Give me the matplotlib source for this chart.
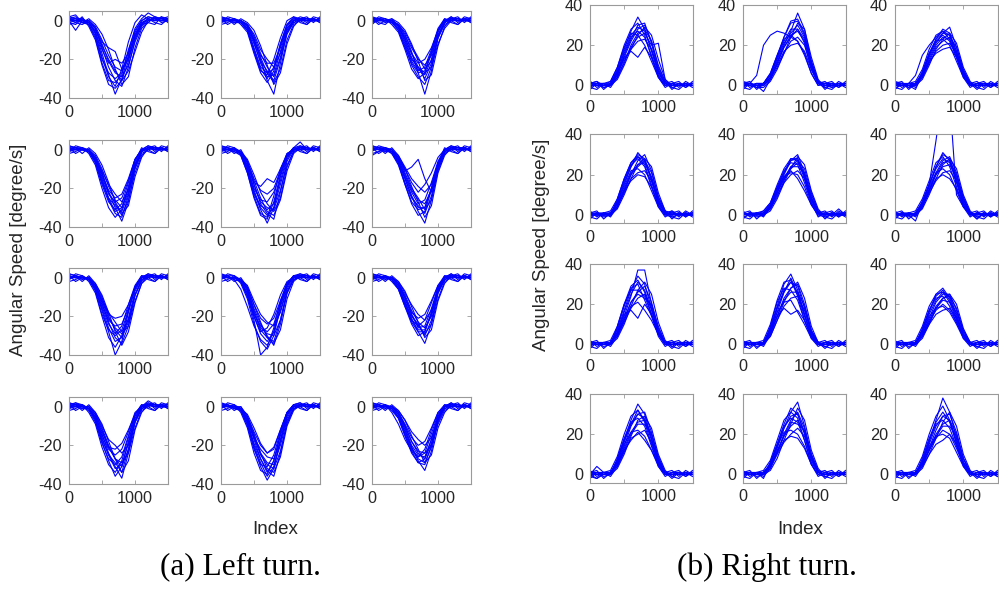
import matplotlib
matplotlib.use("Agg")
import matplotlib.pyplot as plt

plt.rcParams['font.family'] = ['Liberation Sans', 'DejaVu Sans']
plt.rcParams['axes.unicode_minus'] = False

x_index = [0, 100, 200, 300, 400, 500, 600, 700, 800, 900, 1000, 1100, 1200, 1300, 1400, 1500]

# ---------------- (a) Left turn: angular speed [degree/s] ----------------
left_r1c1 = [
    [1, 2, 0, -1, -6, -17, -28, -38, -30, -18, -6, 0, 2, 1, 0, 1],
    [0, -5, 0, 0, -4, -14, -24, -31, -34, -24, -10, -2, 1, 0, 1, 0],
    [2, 1, 1, -2, -8, -20, -27, -30, -27, -16, -4, 1, 4, 2, 1, 1],
    [0, 0, -1, -1, -5, -12, -21, -27, -29, -23, -11, -3, 0, 1, 0, 0],
    [1, 0, 0, 0, -3, -10, -18, -24, -26, -20, -8, -1, 1, 0, 2, 1],
    [-1, 0, 1, -1, -6, -15, -22, -20, -22, -17, -7, -1, 0, 1, 0, 0],
    [0, 1, 0, 0, -4, -11, -14, -16, -25, -19, -9, -2, 1, 0, 0, 1],
    [1, 1, -1, -2, -9, -22, -31, -32, -28, -15, -5, 0, 2, 1, 1, 0],
    [-2, -1, 2, -3, -10, -23, -33, -35, -31, -21, -8, -2, -1, -2, 2, -1],
    [2, 3, -1, 1, -2, -7, -15, -25, -33, -29, -14, -4, -1, 2, 1, 2],
    [-1, -2, 1, -1, -7, -19, -29, -34, -25, -11, -1, 3, 1, -1, -2, 1],
    [1, -1, -2, 0, -4, -13, -20, -26, -31, -26, -16, -6, 0, 2, -1, 0],
]
left_r1c2 = [
    [1, 0, 1, 0, -3, -11, -22, -29, -28, -16, -4, 0, 1, 0, 1, 0],
    [0, 1, 0, 0, -2, -9, -20, -31, -38, -22, -6, -1, 0, 1, 0, 1],
    [1, 1, 0, -1, -4, -14, -24, -27, -25, -13, -3, 1, 1, 0, 0, 0],
    [-1, 0, 0, 0, -2, -8, -17, -24, -29, -19, -5, 0, 1, 1, 0, 1],
    [0, 0, 1, -1, -5, -15, -25, -30, -24, -12, -2, 1, 0, 0, 1, 0],
    [1, 1, 0, 0, -3, -10, -18, -22, -22, -14, -4, 0, 1, 0, 0, 1],
    [0, 0, -1, -1, -4, -12, -21, -26, -31, -20, -7, -1, 1, 1, 1, 0],
    [2, 1, 0, 0, -2, -7, -15, -20, -24, -17, -6, 0, 2, 1, 0, 0],
    [-2, -1, 1, -2, -6, -17, -27, -32, -26, -12, -2, 2, -1, -2, 1, -1],
    [2, 1, -2, 1, -1, -5, -13, -23, -33, -27, -12, -3, 1, 2, -1, 2],
    [-1, 2, 1, -1, -5, -16, -26, -28, -20, -9, 0, 2, 1, -1, 2, 1],
    [1, -2, 0, 0, -3, -10, -19, -27, -32, -25, -10, -2, 0, -2, 1, -1],
]
left_r1c3 = [
    [1, 1, 0, 0, -3, -10, -19, -25, -28, -20, -6, 0, 1, 0, 1, 0],
    [0, 0, 1, 0, -2, -7, -16, -27, -38, -26, -8, -1, 1, 1, 0, 1],
    [1, 0, 0, -1, -4, -12, -21, -26, -24, -15, -4, 1, 0, 0, 1, 0],
    [0, 1, 0, 0, -2, -8, -14, -20, -23, -18, -7, -1, 1, 0, 0, 1],
    [-1, 0, 0, 1, -3, -11, -20, -24, -30, -22, -8, -1, 1, 1, 0, 0],
    [1, 1, -1, 0, -5, -14, -22, -27, -26, -16, -5, 0, 1, 0, 1, 1],
    [0, 0, 0, -1, -2, -6, -13, -19, -25, -21, -9, -2, 0, 1, 0, 0],
    [2, 1, 0, 0, -3, -9, -17, -22, -20, -14, -5, 0, 2, 0, 0, 0],
    [-2, 1, 1, -2, -6, -15, -25, -30, -27, -17, -5, 1, -1, -2, 1, -1],
    [2, -1, -2, 1, -1, -5, -12, -21, -31, -28, -13, -3, 1, 2, -1, 2],
    [-1, 2, 1, -1, -5, -13, -23, -29, -33, -24, -9, -1, 2, -1, 2, 1],
    [1, -2, 0, 0, -3, -9, -17, -24, -27, -24, -12, -4, 0, -2, 1, -1],
]
left_r2c1 = [
    [1, 0, 0, -1, -6, -16, -26, -33, -35, -24, -8, -1, 1, 0, 1, 0],
    [0, 1, 0, 0, -4, -12, -22, -30, -37, -27, -10, -2, 0, 1, 0, 1],
    [1, 1, 1, -1, -7, -18, -27, -31, -28, -17, -5, 0, 1, 1, 0, 0],
    [0, 0, 0, 0, -3, -10, -19, -26, -30, -22, -9, -1, 1, 0, 1, 0],
    [-1, 0, 1, 0, -5, -14, -23, -27, -25, -16, -5, 0, 0, 1, 0, 1],
    [1, 0, 0, -1, -4, -11, -18, -23, -27, -21, -8, -1, 1, 0, 0, 0],
    [0, 1, 0, 0, -6, -17, -25, -29, -32, -23, -9, -1, 1, 1, 1, 0],
    [2, 1, 0, -1, -5, -13, -21, -25, -23, -15, -5, 0, 2, 1, 0, 1],
    [-2, -1, 1, -2, -8, -20, -30, -35, -31, -19, -6, 1, -1, -2, 1, -1],
    [2, 1, -2, 1, -2, -8, -17, -27, -33, -29, -14, -4, 1, 2, -1, 2],
    [-1, 2, 1, -1, -6, -15, -25, -32, -30, -20, -7, 0, 2, -1, 2, 1],
    [1, -2, 0, 0, -4, -12, -22, -28, -34, -26, -12, -3, 0, -2, 1, -1],
]
left_r2c2 = [
    [1, 0, 0, -2, -10, -22, -31, -38, -30, -14, -3, 1, 1, 0, 1, 0],
    [0, 0, -1, -3, -12, -24, -33, -35, -24, -10, -2, 0, 1, 1, 0, 1],
    [1, 1, 0, -1, -7, -18, -28, -33, -36, -22, -6, 0, 0, 0, 1, 0],
    [0, 0, 0, -2, -9, -20, -26, -27, -22, -12, -3, 1, 4, 0, 0, 1],
    [-1, 0, 1, -1, -6, -15, -21, -23, -20, -11, -2, 0, 1, 1, 0, 0],
    [0, 1, 0, -2, -8, -17, -19, -15, -17, -10, -3, 0, 1, 0, 1, 0],
    [1, 0, -1, -2, -11, -23, -29, -31, -28, -16, -4, 0, 0, 1, 0, 1],
    [2, 1, 0, -1, -5, -13, -22, -28, -32, -25, -9, -1, 2, 1, 0, 0],
    [-2, -1, 1, -3, -12, -25, -34, -36, -27, -13, -3, 1, -1, -2, 1, -1],
    [2, 1, -2, 0, -6, -16, -25, -32, -34, -26, -11, -2, 1, 2, -1, 2],
    [-1, 2, 1, -2, -9, -21, -30, -34, -30, -18, -5, 1, 2, -1, 2, 1],
    [1, -2, 0, -1, -7, -18, -27, -30, -31, -21, -8, -1, 0, -2, 1, -1],
]
left_r2c3 = [
    [1, 1, 0, -1, -6, -15, -24, -32, -38, -26, -9, -1, 1, 0, 1, 0],
    [-3, -1, 0, -2, -8, -18, -27, -31, -30, -20, -7, 0, 1, 1, 0, 1],
    [1, 0, 1, 0, -4, -11, -9, -5, -15, -22, -10, -2, 0, 0, 1, 0],
    [0, 1, 0, -1, -5, -13, -21, -26, -28, -21, -8, -1, 1, 0, 0, 1],
    [1, 0, 0, 0, -3, -9, -15, -19, -22, -18, -7, -1, 0, 1, 1, 0],
    [0, 0, -1, -1, -7, -17, -25, -29, -33, -24, -9, -1, 1, 0, 0, 0],
    [2, 1, 0, -1, -4, -10, -17, -22, -18, -12, -4, 0, 2, 1, 0, 1],
    [0, 1, 1, 0, -5, -14, -22, -28, -26, -17, -6, 0, 1, 1, 1, 0],
    [-2, -1, 1, -2, -7, -18, -28, -34, -32, -21, -7, 1, -1, -2, 1, -1],
    [2, 1, -2, 1, -3, -10, -19, -27, -35, -29, -12, -3, 1, 2, -1, 2],
    [-1, 2, 1, -1, -6, -15, -24, -30, -30, -20, -7, 0, 2, -1, 2, 1],
    [1, -2, 0, 0, -4, -12, -20, -25, -31, -26, -11, -2, 0, -2, 1, -1],
]
left_r3c1 = [
    [1, 0, 0, -1, -6, -17, -28, -40, -33, -18, -5, 0, 1, 0, 1, 0],
    [0, 1, 0, 0, -4, -13, -23, -31, -34, -25, -9, -1, 0, 1, 0, 1],
    [1, 0, 1, -1, -7, -19, -27, -30, -27, -17, -5, 0, 1, 1, 0, 0],
    [0, 0, 0, 0, -3, -10, -20, -27, -31, -23, -9, -2, 1, 0, 1, 0],
    [-1, 1, 0, 0, -5, -14, -22, -25, -24, -16, -6, 0, 0, 1, 0, 1],
    [1, 0, 0, -1, -4, -11, -18, -23, -28, -22, -9, -1, 1, 0, 0, 0],
    [0, 1, -1, 0, -6, -15, -24, -29, -25, -14, -4, 1, 1, 1, 1, 0],
    [2, 1, 0, -1, -5, -12, -19, -21, -20, -14, -5, 0, 2, 1, 0, 1],
    [-2, -1, 1, -2, -8, -20, -31, -36, -30, -17, -5, 1, -1, -2, 1, -1],
    [2, 1, -2, 1, -3, -9, -18, -28, -35, -28, -13, -3, 1, 2, -1, 2],
    [-1, 2, 1, -1, -6, -16, -26, -33, -31, -21, -7, 0, 2, -1, 2, 1],
    [1, -2, 0, 0, -4, -12, -21, -26, -29, -25, -12, -3, 0, -2, 1, -1],
]
left_r3c2 = [
    [1, 0, 0, -2, -9, -22, -40, -36, -26, -12, -3, 1, 1, 0, 1, 0],
    [0, 1, -1, -6, -15, -25, -32, -35, -28, -14, -4, 0, 1, 1, 0, 1],
    [1, 0, 0, -1, -7, -18, -27, -31, -33, -22, -7, -1, 0, 0, 1, 0],
    [0, 0, 0, -2, -8, -19, -25, -28, -24, -13, -3, 1, 1, 0, 0, 1],
    [-1, 1, 1, -1, -5, -14, -21, -24, -21, -12, -3, 0, 1, 1, 0, 0],
    [0, 0, 0, -1, -6, -16, -24, -30, -35, -24, -8, -1, 1, 0, 1, 0],
    [1, 1, -1, -2, -10, -20, -28, -26, -19, -9, -2, 0, 0, 1, 0, 1],
    [2, 0, 0, -1, -4, -12, -19, -23, -25, -18, -6, 0, 2, 1, 0, 0],
    [-2, -1, 1, -3, -11, -24, -33, -37, -30, -15, -4, 1, -1, -2, 1, -1],
    [2, 1, -2, 0, -5, -14, -23, -31, -34, -27, -11, -2, 1, 2, -1, 2],
    [-1, 2, 1, -2, -8, -20, -29, -33, -28, -17, -5, 1, 2, -1, 2, 1],
    [1, -2, 0, -1, -6, -17, -26, -29, -30, -22, -8, -1, 0, -2, 1, -1],
]
left_r3c3 = [
    [1, 1, 0, 0, -4, -12, -21, -28, -34, -24, -8, -1, 1, 0, 1, 0],
    [0, 0, 1, -1, -5, -14, -23, -28, -28, -18, -5, 0, 1, 1, 0, 1],
    [1, 0, 0, 0, -3, -9, -17, -23, -26, -20, -7, -1, 0, 0, 1, 0],
    [0, 1, 0, -1, -6, -15, -22, -25, -22, -13, -4, 1, 1, 0, 0, 1],
    [-1, 0, 1, 0, -2, -8, -14, -19, -22, -17, -6, 0, 0, 1, 0, 0],
    [1, 0, 0, -1, -5, -13, -20, -24, -30, -22, -8, -1, 1, 0, 1, 0],
    [0, 1, -1, 0, -4, -10, -18, -21, -19, -12, -4, 0, 1, 1, 0, 1],
    [2, 1, 0, 0, -3, -11, -19, -26, -25, -16, -5, 0, 2, 0, 0, 0],
    [-2, -1, 1, -2, -6, -15, -24, -30, -28, -18, -6, 1, -1, -2, 1, -1],
    [2, 1, -2, 1, -2, -7, -15, -23, -31, -27, -12, -3, 1, 2, -1, 2],
    [-1, 2, 1, -1, -5, -13, -22, -27, -27, -19, -7, 0, 2, -1, 2, 1],
    [1, -2, 0, 0, -3, -10, -19, -25, -29, -24, -11, -2, 0, -2, 1, -1],
]
left_r4c1 = [
    [1, 2, 0, -1, -7, -18, -28, -36, -31, -18, -5, 0, 3, 1, 0, 1],
    [0, 1, 1, -1, -5, -14, -24, -31, -37, -24, -8, -1, 1, 1, 0, 0],
    [1, 0, 0, -2, -8, -19, -27, -30, -26, -15, -4, 1, 1, 0, 1, 0],
    [0, 1, 0, 0, -4, -11, -20, -27, -31, -22, -8, -1, 0, 1, 0, 1],
    [-1, 0, 1, -1, -6, -15, -22, -25, -22, -13, -3, 0, 1, 0, 0, 0],
    [1, 1, 0, 0, -3, -10, -17, -20, -24, -20, -8, -1, 1, 0, 1, 1],
    [0, 0, -1, -1, -7, -17, -25, -29, -34, -22, -7, 0, 1, 1, 0, 0],
    [2, 1, 0, -1, -5, -13, -21, -22, -19, -12, -4, 0, 2, 1, 1, 0],
    [-2, -1, 1, -3, -9, -21, -30, -34, -28, -16, -4, 1, -1, -2, 1, -1],
    [2, 1, -2, 1, -3, -9, -18, -27, -34, -28, -12, -3, 1, 2, -1, 2],
    [-1, 2, 1, -1, -6, -16, -25, -32, -30, -19, -6, 0, 2, -1, 2, 1],
    [1, -2, 0, 0, -4, -12, -21, -27, -29, -24, -11, -2, 0, -2, 1, -1],
]
left_r4c2 = [
    [1, 0, 0, -2, -9, -21, -31, -38, -32, -17, -4, 0, 1, 0, 1, 0],
    [0, 1, -1, -1, -7, -17, -27, -33, -36, -24, -8, -1, 0, 1, 0, 1],
    [1, 0, 0, -2, -10, -22, -30, -31, -25, -13, -3, 1, 1, 1, 0, 0],
    [0, 0, 1, -1, -6, -15, -24, -29, -30, -20, -7, -1, 1, 0, 1, 0],
    [-1, 1, 0, 0, -5, -13, -20, -24, -22, -12, -3, 0, 0, 1, 0, 1],
    [0, 0, 0, -1, -8, -19, -27, -34, -28, -15, -4, 0, 1, 0, 0, 0],
    [1, 1, -1, -2, -7, -16, -22, -26, -27, -18, -6, 0, 1, 1, 1, 0],
    [2, 0, 0, -1, -4, -11, -19, -24, -21, -12, -3, 1, 2, 0, 0, 1],
    [-2, -1, 1, -3, -11, -24, -33, -35, -28, -14, -3, 1, -1, -2, 1, -1],
    [2, 1, -2, 0, -5, -14, -24, -32, -34, -26, -10, -2, 1, 2, -1, 2],
    [-1, 2, 1, -2, -8, -20, -29, -36, -31, -18, -5, 1, 2, -1, 2, 1],
    [1, -2, 0, -1, -6, -16, -25, -30, -32, -23, -9, -1, 0, -2, 1, -1],
]
left_r4c3 = [
    [1, 1, 0, 0, -4, -12, -21, -28, -33, -23, -8, -1, 1, 0, 1, 0],
    [0, 0, 1, -3, -9, -17, -23, -26, -24, -14, -4, 0, 1, 1, 0, 1],
    [1, 0, 0, 0, -3, -10, -18, -24, -27, -19, -6, 0, 0, 0, 1, 0],
    [0, 1, 0, -1, -5, -14, -22, -26, -22, -12, -3, 1, 1, 0, 0, 1],
    [-1, 0, 1, 0, -2, -7, -13, -17, -20, -16, -6, -1, 0, 1, 0, 0],
    [1, 0, 0, -1, -6, -15, -23, -29, -30, -20, -7, 0, 1, 0, 1, 0],
    [0, 1, -1, 0, -3, -9, -16, -20, -18, -11, -3, 0, 1, 1, 0, 1],
    [2, 1, 0, 0, -4, -11, -20, -25, -26, -17, -5, 0, 2, 0, 0, 0],
    [-2, -1, 1, -2, -6, -15, -24, -29, -27, -17, -5, 1, -1, -2, 1, -1],
    [2, 1, -2, 1, -2, -7, -15, -22, -29, -25, -11, -3, 1, 2, -1, 2],
    [-1, 2, 1, -1, -5, -13, -21, -27, -29, -21, -7, 0, 2, -1, 2, 1],
    [1, -2, 0, 0, -3, -10, -18, -23, -24, -20, -9, -2, 0, -2, 1, -1],
]

# ---------------- (b) Right turn: angular speed [degree/s] ----------------
right_r1c1 = [
    [1, 2, 0, 1, 8, 18, 27, 34, 28, 17, 6, 1, 0, 1, 0, 1],
    [0, 1, 1, 0, 5, 14, 22, 28, 30, 22, 9, 2, 0, 0, 1, 0],
    [2, 0, 0, 1, 7, 16, 24, 27, 24, 15, 5, 0, 1, 0, 0, 1],
    [0, 1, -1, 0, 4, 12, 19, 24, 26, 20, 21, 3, 0, 1, 0, 0],
    [1, 0, 0, 2, 9, 19, 26, 25, 20, 12, 4, 0, 1, 0, 1, 0],
    [-1, 1, 1, 0, 6, 13, 18, 22, 23, 18, 8, 1, 0, 1, 0, 1],
    [0, 0, 0, 1, 5, 15, 23, 30, 31, 21, 7, 1, -1, 0, 1, 0],
    [1, 1, 0, 0, 7, 14, 17, 14, 19, 14, 5, 0, 1, 0, 0, 1],
    [2, -1, 1, 2, 9, 20, 28, 31, 25, 14, 4, -1, 1, 2, -1, 1],
    [-2, 1, -1, 0, 3, 10, 18, 25, 29, 25, 13, 3, -1, -2, 1, -1],
    [1, 2, -2, 1, 6, 17, 25, 29, 27, 18, 7, 1, 2, -1, 2, 0],
    [-1, -2, 1, -1, 4, 11, 20, 26, 28, 22, 10, 2, -2, 1, -1, 2],
]
right_r1c2 = [
    [1, 0, 1, 0, 4, 12, 20, 27, 36, 28, 12, 2, 0, 1, 0, 0],
    [0, 1, 5, 20, 25, 27, 26, 24, 22, 16, 6, 0, 1, 0, 1, 0],
    [1, 1, 0, -3, 3, 11, 19, 25, 27, 22, 10, 1, 0, -1, 0, 1],
    [0, 0, 1, 1, 5, 13, 21, 26, 30, 24, 11, 2, 1, 0, 0, 1],
    [2, 1, 0, 0, 3, 9, 16, 22, 24, 20, 9, 1, -1, 0, 1, 0],
    [0, 1, 0, 1, 6, 15, 23, 25, 22, 15, 6, 0, 1, 1, 0, 0],
    [1, 0, -1, 0, 4, 10, 17, 20, 21, 17, 8, 1, 0, 0, 1, 1],
    [-1, 1, 0, 1, 5, 14, 24, 32, 33, 26, 11, 2, 0, 1, 0, 0],
    [2, -1, 1, 1, 6, 15, 24, 31, 32, 25, 10, 1, 1, 2, -1, 1],
    [-2, 1, -1, -1, 2, 8, 16, 24, 31, 28, 14, 3, -1, -2, 1, -1],
    [1, 2, -2, 1, 5, 14, 22, 28, 28, 21, 8, 1, 2, -1, 2, 0],
    [-1, -2, 1, 0, 3, 11, 19, 24, 28, 23, 12, 2, -2, 1, -1, 2],
]
right_r1c3 = [
    [1, 0, 0, 1, 6, 15, 23, 28, 26, 17, 6, 1, 0, 1, 0, 1],
    [0, 1, 1, 5, 15, 20, 24, 27, 25, 15, 5, 0, 1, 0, 0, 0],
    [1, 1, 0, 0, 5, 13, 20, 24, 23, 16, 6, 1, 0, 0, 1, 0],
    [-1, 0, 1, 0, 7, 16, 22, 23, 20, 12, 4, 0, 1, 1, 0, 1],
    [0, 1, -1, 1, 4, 11, 17, 20, 21, 16, 7, 1, 0, 0, 1, 0],
    [1, 0, 0, 0, 6, 14, 21, 26, 29, 19, 7, 1, -1, 1, 0, 0],
    [0, 0, 1, 1, 5, 12, 16, 18, 19, 14, 5, 0, 1, 0, 0, 1],
    [2, 1, 0, -2, 6, 15, 22, 25, 22, 14, 5, 0, 0, 1, 1, 0],
    [2, -1, 1, 2, 8, 18, 25, 27, 23, 14, 4, -1, 1, 2, -1, 1],
    [-2, 1, -1, 0, 3, 10, 18, 23, 26, 21, 9, 2, -1, -2, 1, -1],
    [1, 2, -2, 1, 6, 16, 23, 26, 25, 17, 6, 1, 2, -1, 2, 0],
    [-1, -2, 1, -1, 4, 12, 19, 22, 24, 19, 8, 1, -2, 1, -1, 2],
]
right_r2c1 = [
    [0, 1, 0, 1, 6, 15, 24, 31, 27, 17, 6, 1, 0, 1, 0, 0],
    [1, 0, 0, 0, 4, 12, 20, 27, 30, 22, 9, 2, 1, 0, 0, 1],
    [0, 1, 1, 0, 7, 17, 25, 28, 24, 14, 5, 0, 1, 0, 1, 0],
    [1, 0, 0, 1, 5, 13, 21, 25, 26, 19, 8, 1, 0, 1, 0, 1],
    [-1, 1, 0, 0, 6, 14, 22, 23, 20, 12, 4, 0, -1, 0, 1, 0],
    [0, 0, 1, 1, 4, 11, 18, 21, 22, 17, 7, 1, 0, 0, 0, 1],
    [1, 1, 0, 0, 8, 18, 26, 30, 28, 18, 6, 1, 0, 1, 0, 0],
    [0, 0, 0, 1, 5, 12, 17, 20, 19, 14, 5, 0, 2, 0, 1, 0],
    [2, -1, 1, 2, 8, 18, 26, 29, 25, 15, 4, -1, 1, 2, -1, 1],
    [-2, 1, -1, 0, 3, 10, 18, 25, 28, 24, 11, 2, -1, -2, 1, -1],
    [1, 2, -2, 1, 6, 16, 24, 29, 27, 18, 7, 1, 2, -1, 2, 0],
    [-1, -2, 1, -1, 4, 12, 20, 24, 27, 21, 9, 2, -2, 1, -1, 2],
]
right_r2c2 = [
    [0, 1, 0, 1, 4, 11, 20, 27, 30, 21, 8, 1, 0, 1, 0, 0],
    [1, 0, 1, 0, 3, 9, 17, 24, 27, 23, 11, 2, 0, 0, 1, 0],
    [0, 1, 0, 2, 6, 14, 22, 26, 25, 16, 6, 1, 1, 0, 0, 1],
    [1, 0, 0, 0, 4, 12, 19, 23, 26, 20, 9, 1, 0, 1, 0, 0],
    [-1, 0, 1, 1, 5, 13, 19, 21, 20, 14, 5, 0, -1, 0, 1, 1],
    [0, 1, 0, 0, 3, 10, 16, 20, 22, 18, 8, 1, 0, 0, 3, 0],
    [1, 0, 0, 1, 5, 13, 21, 28, 28, 19, 7, 1, 0, 1, 0, 0],
    [0, 1, 1, 0, 4, 11, 18, 22, 18, 12, 5, 0, 1, 0, 0, 1],
    [2, -1, 1, 2, 6, 15, 23, 28, 27, 18, 6, -1, 1, 2, -1, 1],
    [-2, 1, -1, 0, 2, 8, 16, 23, 29, 25, 12, 3, -1, -2, 1, -1],
    [1, 2, -2, 1, 5, 13, 21, 27, 28, 20, 8, 1, 2, -1, 2, 0],
    [-1, -2, 1, -1, 4, 11, 18, 24, 24, 21, 10, 2, -2, 1, -1, 2],
]
right_r2c3 = [
    [0, 1, 0, 1, 6, 15, 24, 31, 27, 16, 5, 0, 1, 0, 0, 1],
    [1, 0, 0, 0, 4, 12, 21, 27, 29, 21, 8, 1, -2, 1, 0, 0],
    [0, 1, 1, 0, 7, 15, 37, 62, 58, 10, 4, 1, 0, 0, 1, 0],
    [1, 0, 0, 1, 5, 13, 20, 24, 25, 19, 8, 1, 0, 1, 0, 1],
    [-1, 1, 0, -3, 6, 14, 21, 23, 20, 12, 4, 0, 1, 0, 0, 0],
    [0, 0, 1, 0, 4, 11, 17, 21, 22, 17, 7, 1, -1, 0, 1, 0],
    [1, 0, 0, 1, 6, 15, 23, 28, 26, 17, 6, 0, 0, 1, 0, 1],
    [0, 1, 0, 0, 5, 12, 18, 20, 18, 13, 5, 0, 1, 0, 1, 0],
    [2, -1, 1, 2, 8, 17, 26, 29, 24, 14, 4, -1, 1, 2, -1, 1],
    [-2, 1, -1, 0, 3, 10, 18, 25, 28, 23, 10, 2, -1, -2, 1, -1],
    [1, 2, -2, 1, 6, 15, 24, 30, 28, 18, 6, 1, 2, -1, 2, 0],
    [-1, -2, 1, -1, 4, 12, 20, 26, 27, 20, 9, 1, -2, 1, -1, 2],
]
right_r3c1 = [
    [0, 1, 0, 1, 7, 17, 27, 34, 30, 18, 6, 1, 0, 1, 0, 0],
    [1, 0, 0, 0, 5, 14, 24, 37, 37, 20, 6, 1, 1, 0, 0, 1],
    [0, 1, 1, 0, 8, 19, 28, 30, 22, 14, 5, 0, 0, 1, 1, 0],
    [1, 0, 0, 1, 5, 13, 21, 26, 29, 21, 8, 1, 0, 0, 0, 1],
    [-1, 1, 0, 0, 6, 15, 17, 13, 20, 15, 6, 0, 1, 0, 1, 0],
    [0, 0, 1, 1, 4, 11, 18, 23, 25, 18, 7, 1, -1, 1, 0, 0],
    [1, 1, 0, 0, 9, 20, 27, 27, 24, 15, 5, 0, 0, 0, 1, 1],
    [0, 0, 0, 1, 5, 12, 19, 21, 17, 12, 5, 1, 1, 0, 0, 0],
    [2, -1, 1, 2, 9, 20, 29, 32, 26, 15, 4, -1, 1, 2, -1, 1],
    [-2, 1, -1, 0, 3, 10, 19, 27, 31, 25, 11, 2, -1, -2, 1, -1],
    [1, 2, -2, 1, 6, 16, 25, 31, 27, 17, 6, 1, 2, -1, 2, 0],
    [-1, -2, 1, -1, 4, 12, 21, 25, 23, 20, 9, 1, -2, 1, -1, 2],
]
right_r3c2 = [
    [0, 1, 0, 1, 8, 19, 30, 35, 27, 15, 4, 0, 1, 0, 0, 1],
    [1, 0, 0, 0, 6, 16, 26, 31, 29, 18, 6, 1, 0, 1, 0, 0],
    [0, 1, 1, 0, 9, 21, 28, 27, 22, 12, 4, 0, -1, 0, 1, 0],
    [1, 0, 0, 1, 5, 14, 23, 28, 30, 20, 7, 1, 0, 1, 0, 1],
    [-1, 1, 0, 0, 7, 16, 21, 22, 16, 10, 3, 0, 1, 0, 0, 0],
    [0, 0, 1, 1, 4, 12, 19, 23, 24, 17, 6, 1, 0, 0, 1, 0],
    [1, 1, 0, 0, 8, 18, 26, 33, 25, 14, 5, 0, 1, 1, 0, 1],
    [0, 0, 0, 1, 6, 14, 18, 15, 17, 12, 4, 0, 0, 0, 1, 0],
    [2, -1, 1, 2, 10, 22, 31, 32, 24, 12, 3, -1, 1, 2, -1, 1],
    [-2, 1, -1, 0, 4, 12, 21, 28, 31, 23, 9, 1, -1, -2, 1, -1],
    [1, 2, -2, 1, 7, 18, 27, 31, 26, 15, 5, 1, 2, -1, 2, 0],
    [-1, -2, 1, -1, 5, 14, 22, 26, 26, 19, 7, 1, -2, 1, -1, 2],
]
right_r3c3 = [
    [0, 1, 0, 1, 7, 16, 25, 28, 23, 14, 5, 0, 1, 0, 0, 1],
    [1, 0, 0, 0, 5, 13, 21, 25, 25, 17, 6, 1, 0, 1, 0, 0],
    [0, 1, 1, 0, 8, 17, 23, 24, 19, 11, 4, 0, -1, 0, 1, 0],
    [1, 0, 0, 1, 5, 12, 19, 23, 24, 18, 7, 1, 0, 1, 0, 1],
    [-1, 1, 0, 0, 6, 14, 18, 19, 16, 10, 3, 0, 1, 0, 0, 0],
    [0, 0, 1, 1, 4, 10, 15, 17, 18, 13, 5, 1, 0, 0, 1, 0],
    [1, 1, 0, 0, 7, 17, 24, 27, 22, 13, 4, 0, 1, 1, 0, 1],
    [0, 0, 0, 1, 5, 11, 17, 20, 17, 11, 4, 0, 0, 0, 1, 0],
    [2, -1, 1, 2, 9, 19, 25, 26, 21, 12, 3, -1, 1, 2, -1, 1],
    [-2, 1, -1, 0, 3, 10, 18, 23, 25, 20, 8, 1, -1, -2, 1, -1],
    [1, 2, -2, 1, 6, 15, 22, 26, 24, 15, 5, 1, 2, -1, 2, 0],
    [-1, -2, 1, -1, 4, 11, 18, 22, 21, 16, 7, 1, -2, 1, -1, 2],
]
right_r4c1 = [
    [0, 4, 1, 1, 7, 17, 27, 35, 30, 18, 6, 1, 0, 1, 0, 1],
    [1, 0, 0, 0, 5, 14, 24, 30, 31, 21, 7, 1, -1, 1, 0, 0],
    [0, 1, 1, 0, 8, 18, 26, 28, 24, 14, 5, 0, 0, 0, 1, 0],
    [1, 0, 0, 1, 5, 13, 21, 26, 27, 20, 8, 1, 0, 1, 0, 1],
    [-1, 1, 0, 0, 6, 15, 21, 22, 19, 12, 4, 0, 1, 0, 0, 0],
    [0, 0, 1, 1, 4, 11, 18, 20, 22, 16, 7, 1, 0, 0, 1, 0],
    [1, 1, 0, 0, 7, 17, 25, 32, 27, 17, 5, 0, 1, 1, 0, 1],
    [0, -2, 0, 1, 5, 12, 17, 21, 17, 12, 5, 1, 0, 0, 1, 0],
    [2, -1, 1, 2, 9, 20, 29, 32, 26, 15, 4, -1, 1, 2, -1, 1],
    [-2, 1, -1, 0, 3, 10, 19, 27, 29, 23, 10, 2, -1, -2, 1, -1],
    [1, 2, -2, 1, 6, 16, 25, 30, 28, 18, 6, 1, 2, -1, 2, 0],
    [-1, -2, 1, -1, 4, 12, 20, 25, 25, 20, 9, 1, -2, 1, -1, 2],
]
right_r4c2 = [
    [0, 1, 0, 1, 5, 13, 23, 31, 36, 24, 9, 1, 0, 1, 0, 0],
    [1, 0, 0, 0, 4, 11, 20, 27, 31, 23, 10, 2, 1, 0, 0, 1],
    [0, 1, 1, -2, 6, 15, 24, 28, 26, 17, 6, 1, 0, 0, 1, 0],
    [1, 0, 0, 1, 4, 12, 19, 24, 27, 21, 9, 1, 0, 1, 0, 1],
    [-1, 1, 0, 0, 5, 14, 21, 22, 20, 14, 5, 0, -1, 0, 1, 0],
    [0, 0, 1, 1, 3, 10, 16, 20, 23, 19, 8, 1, 0, 0, 0, 1],
    [1, 1, 0, 0, 6, 15, 25, 33, 30, 20, 7, 1, 0, 1, 0, 0],
    [0, 0, 0, 1, 4, 11, 17, 19, 18, 13, 5, 0, 1, 0, 1, 0],
    [2, -1, 1, 2, 7, 17, 27, 31, 28, 17, 5, -1, 1, 2, -1, 1],
    [-2, 1, -1, 0, 2, 8, 17, 25, 33, 27, 12, 3, -1, -2, 1, -1],
    [1, 2, -2, 1, 5, 14, 23, 29, 30, 21, 8, 1, 2, -1, 2, 0],
    [-1, -2, 1, -1, 3, 11, 19, 26, 25, 22, 10, 2, -2, 1, -1, 2],
]
right_r4c3 = [
    [0, 1, 0, 1, 6, 16, 27, 38, 31, 18, 6, 1, 0, 1, 0, 1],
    [1, 0, 0, 0, 5, 13, 22, 29, 30, 21, 8, 1, -1, 1, 0, 0],
    [0, 1, 1, 0, 7, 17, 25, 27, 23, 14, 5, 0, 0, 0, 1, 0],
    [1, 0, 0, 1, 5, 12, 20, 25, 27, 20, 8, 1, 0, 1, 0, 1],
    [-1, 1, 0, 0, 6, 14, 19, 20, 18, 11, 4, 0, 1, 0, 0, 0],
    [0, 0, 1, 1, 4, 10, 15, 17, 20, 15, 6, 1, 0, 0, 1, 0],
    [1, 1, 0, 0, 8, 18, 26, 31, 26, 16, 5, 0, 1, 1, 0, 1],
    [0, 0, 0, 1, 5, 12, 18, 22, 20, 13, 5, 0, 0, 0, 1, -1],
    [2, -1, 1, 2, 9, 20, 29, 34, 27, 15, 4, -1, 1, 2, -1, 1],
    [-2, 1, -1, 0, 3, 10, 18, 26, 31, 24, 10, 2, -1, -2, 1, -1],
    [1, 2, -2, 1, 6, 15, 24, 29, 27, 17, 6, 1, 2, -1, 2, 0],
    [-1, -2, 1, -1, 4, 12, 19, 24, 24, 19, 8, 1, -2, 1, -1, 2],
]

left_panels = [[left_r1c1, left_r1c2, left_r1c3],
               [left_r2c1, left_r2c2, left_r2c3],
               [left_r3c1, left_r3c2, left_r3c3],
               [left_r4c1, left_r4c2, left_r4c3]]
right_panels = [[right_r1c1, right_r1c2, right_r1c3],
                [right_r2c1, right_r2c2, right_r2c3],
                [right_r3c1, right_r3c2, right_r3c3],
                [right_r4c1, right_r4c2, right_r4c3]]

left_yticks = [-40, -20, 0]
right_yticks = [0, 20, 40]
x_ticks = [0, 500, 1000]
x_ticklabels = ['0', '', '1000']

W, H = 999, 590
fig = plt.figure(figsize=(W / 100, H / 100), dpi=100)

TXT = '#262626'
EDGE = '#9a9a9a'


def make_axes(left, top, w, h):
    return fig.add_axes([left / W, 1 - (top + h) / H, w / W, h / H])


def style(ax, ylim, yticks):
    ax.set_xlim(0, 1500)
    ax.set_ylim(*ylim)
    ax.set_xticks(x_ticks)
    ax.set_xticklabels(x_ticklabels)
    ax.set_yticks(yticks)
    ax.set_yticklabels([str(v) for v in yticks])
    ax.tick_params(direction='in', length=3, width=0.6, color=EDGE,
                   labelsize=11.7, labelcolor=TXT, pad=5,
                   top=True, right=True)
    for s in ax.spines.values():
        s.set_color(EDGE)
        s.set_linewidth(0.8)


left_cols = [69, 221, 372]
left_rows = [11, 140, 268, 397]
for r, top in enumerate(left_rows):
    for c, lx in enumerate(left_cols):
        ax = make_axes(lx, top, 99, 87)
        for curve in left_panels[r][c]:
            ax.plot(x_index, curve, color='#0000ff', lw=0.8)
        style(ax, (-40, 5), left_yticks)

right_cols = [590, 743, 895]
right_rows = [5, 134.5, 264, 394]
for r, top in enumerate(right_rows):
    for c, lx in enumerate(right_cols):
        ax = make_axes(lx, top, 102.5, 88.5)
        for curve in right_panels[r][c]:
            ax.plot(x_index, curve, color='#0000ff', lw=0.8)
        style(ax, (-4, 40), right_yticks)

fig.text(19 / W, 1 - 250 / H, 'Angular Speed [degree/s]', rotation=90,
         ha='center', va='center', fontsize=13.5, color=TXT)
fig.text(541 / W, 1 - 245 / H, 'Angular Speed [degree/s]', rotation=90,
         ha='center', va='center', fontsize=13.5, color=TXT)
fig.text(275 / W, 1 - 530 / H, 'Index', ha='center', va='center',
         fontsize=13.5, color=TXT)
fig.text(800 / W, 1 - 530 / H, 'Index', ha='center', va='center',
         fontsize=13.5, color=TXT)
fig.text(240 / W, 1 - 567 / H, '(a) Left turn.', ha='center', va='center',
         fontsize=22.5, family=['Liberation Serif', 'DejaVu Serif'], color='black')
fig.text(767 / W, 1 - 567 / H, '(b) Right turn.', ha='center', va='center',
         fontsize=22.5, family=['Liberation Serif', 'DejaVu Serif'], color='black')

fig.savefig('out.png', dpi=100)
